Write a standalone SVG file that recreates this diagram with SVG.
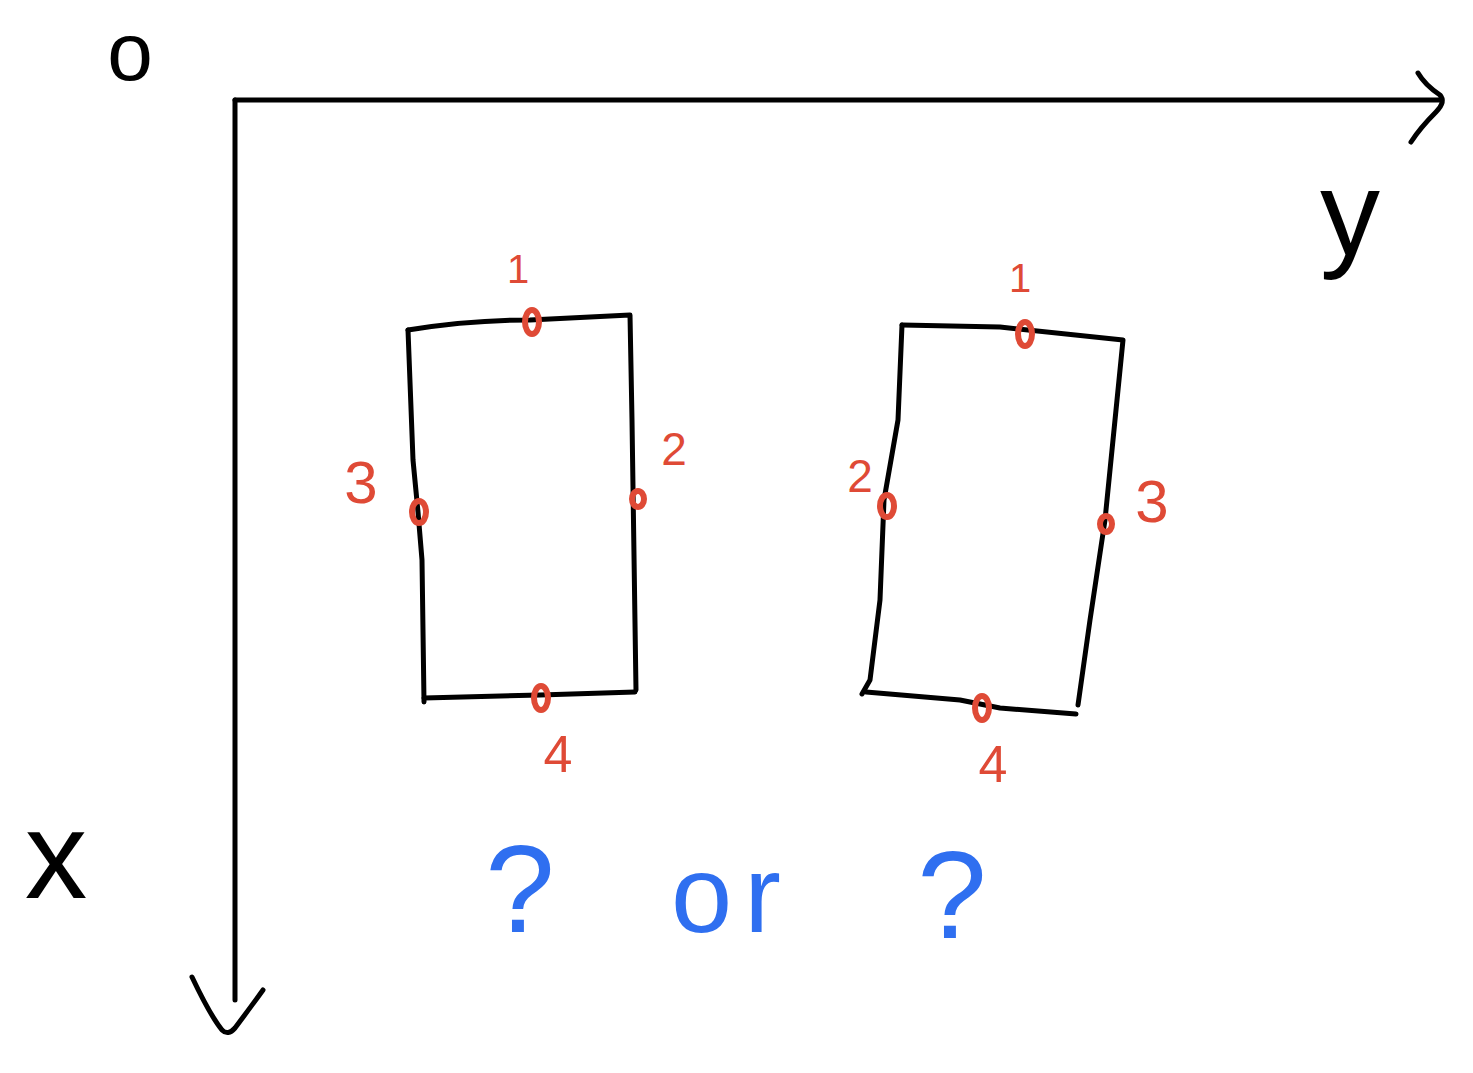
<svg xmlns="http://www.w3.org/2000/svg" width="1473" height="1073" viewBox="0 0 1473 1073">
<style>
.ink{fill:none;stroke:#000;stroke-width:5;stroke-linecap:round;stroke-linejoin:round}
.pt{fill:none;stroke:#df4a36;stroke-width:6;stroke-linecap:round}
.red{fill:#df4a36;font-family:"Liberation Sans",Arial,sans-serif;text-anchor:middle}
.blk{fill:#000;font-family:"Liberation Sans",Arial,sans-serif;text-anchor:middle}
.blu{fill:#2f6ff0;font-family:"Liberation Sans",Arial,sans-serif;text-anchor:middle}
</style>
<rect width="1473" height="1073" fill="#fff"/>
<g id="axes">
  <path class="ink" d="M235,100 L1440,100"/>
  <path class="ink" d="M1418,73 Q1425,85 1440,95 Q1446,102 1436,112 Q1420,128 1411,142"/>
  <path class="ink" d="M235,100 L235,1000"/>
  <path class="ink" d="M192,977 Q210,1015 222,1030 Q228,1036 235,1028 Q250,1008 263,990"/>
  <text class="blk" x="130" y="80" font-size="82">o</text>
  <text class="blk" x="1350" y="255" font-size="120">y</text>
  <text class="blk" x="56" y="898" font-size="125">x</text>
</g>
<g id="rect-left">
  <path class="ink" d="M408,330 Q470,320 530,320 L630,315 L632,420 L636,690"/>
  <path class="ink" d="M408,330 L413,460 L418,512 L422,560 L424,702"/>
  <path class="ink" d="M424,698 L540,695 L635,692"/>
  <ellipse class="pt" cx="532" cy="322" rx="7" ry="12"/>
  <ellipse class="pt" cx="419" cy="512" rx="7" ry="11"/>
  <ellipse class="pt" cx="638" cy="499" rx="6" ry="8"/>
  <ellipse class="pt" cx="541" cy="698" rx="7" ry="12"/>
  <text class="red" x="518" y="283" font-size="40">1</text>
  <text class="red" x="674" y="465" font-size="46">2</text>
  <text class="red" x="361" y="503" font-size="60">3</text>
  <text class="red" x="558" y="772" font-size="52">4</text>
</g>
<g id="rect-right">
  <path class="ink" d="M902,325 L1000,327 L1123,340 L1115,420 L1105,520 L1090,620 L1078,705"/>
  <path class="ink" d="M902,325 L898,420 L884,500 L880,600 L870,680 L862,694"/>
  <path class="ink" d="M866,692 L960,700 L1000,708 L1076,714"/>
  <ellipse class="pt" cx="1025" cy="334" rx="7" ry="12"/>
  <ellipse class="pt" cx="887" cy="506" rx="7" ry="11"/>
  <ellipse class="pt" cx="1106" cy="524" rx="6" ry="8"/>
  <ellipse class="pt" cx="982" cy="708" rx="7" ry="12"/>
  <text class="red" x="1020" y="292" font-size="40">1</text>
  <text class="red" x="860" y="492" font-size="46">2</text>
  <text class="red" x="1152" y="522" font-size="60">3</text>
  <text class="red" x="993" y="782" font-size="52">4</text>
</g>
<g id="question">
  <text class="blu" x="520" y="932" font-size="125">?</text>
  <text class="blu" x="732" y="932" font-size="110" letter-spacing="12">or</text>
  <text class="blu" x="952" y="938" font-size="125">?</text>
</g>
</svg>
